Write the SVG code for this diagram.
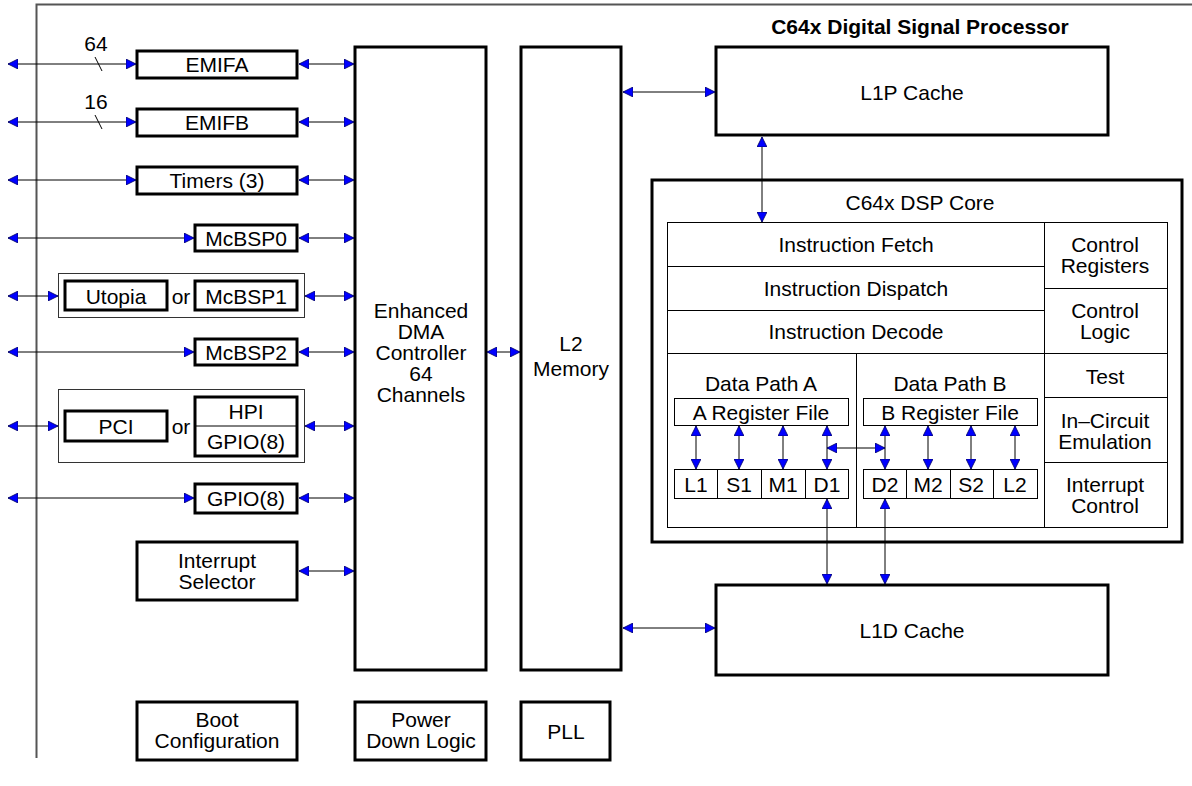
<svg xmlns="http://www.w3.org/2000/svg" width="1192" height="786" viewBox="0 0 1192 786">
<defs>
<marker id="ah" viewBox="0 0 10 10" refX="10" refY="5" markerWidth="10" markerHeight="10" markerUnits="userSpaceOnUse" orient="auto-start-reverse">
<path d="M0,0 L10,5 L0,10 z" fill="#0000ff" stroke="#000060" stroke-width="0.8"/>
</marker>
</defs>
<style>
text{font-family:"Liberation Sans",Arial,sans-serif;font-size:21px;fill:#000;text-anchor:middle}
.thick{fill:#fff;stroke:#000;stroke-width:3}
.thin{fill:#fff;stroke:#000;stroke-width:1}
.grp{fill:none;stroke:#333;stroke-width:1}
.ln{fill:none;stroke:#000;stroke-width:1}
.ar{fill:none;stroke:#000;stroke-width:1;marker-start:url(#ah);marker-end:url(#ah)}
.title{font-weight:bold;font-size:21px}
</style>
<rect width="1192" height="786" fill="#fff"/>
<g id="frame">
<path d="M36.5,758 V4.5 H1192" fill="none" stroke="#555" stroke-width="2"/>
</g>
<text class="title" x="920" y="34">C64x Digital Signal Processor</text>

<text x="96" y="50.5">64</text>
<text x="96" y="109">16</text>

<g id="emifa"><rect class="thick" x="137" y="51" width="160" height="27"/><text x="217" y="71.5">EMIFA</text></g>
<g id="emifb"><rect class="thick" x="137" y="109" width="160" height="27"/><text x="217" y="129.5">EMIFB</text></g>
<g id="timers"><rect class="thick" x="137" y="167" width="160" height="27"/><text x="217" y="187.5">Timers (3)</text></g>
<g id="mcbsp0"><rect class="thick" x="195" y="225" width="102" height="26"/><text x="246" y="245.5">McBSP0</text></g>
<g id="utopia-group">
<rect class="grp" x="58.5" y="273.5" width="246" height="44"/>
<rect class="thick" x="65" y="281" width="102" height="29"/><text x="116" y="303.5">Utopia</text>
<text x="181" y="303.5">or</text>
<rect class="thick" x="195" y="281" width="102" height="29"/><text x="246" y="303.5">McBSP1</text>
</g>
<g id="mcbsp2"><rect class="thick" x="195" y="339" width="102" height="26"/><text x="246" y="359.5">McBSP2</text></g>
<g id="pci-group">
<rect class="grp" x="58.5" y="389.5" width="246" height="73"/>
<rect class="thick" x="65" y="411" width="102" height="30"/><text x="116" y="433.5">PCI</text>
<text x="181" y="433.5">or</text>
<rect class="thick" x="195" y="397" width="102" height="59"/>
<line class="ln" x1="195" y1="426" x2="297" y2="426"/>
<text x="246" y="418.5">HPI</text><text x="246" y="448.5">GPIO(8)</text>
</g>
<g id="gpio8"><rect class="thick" x="195" y="484" width="102" height="29"/><text x="246" y="505.5">GPIO(8)</text></g>
<g id="int-selector"><rect class="thick" x="137" y="542" width="160" height="58"/><text x="217" y="567.5">Interrupt</text><text x="217" y="588.5">Selector</text></g>

<g id="edma"><rect class="thick" x="355" y="47" width="131" height="623"/>
<text x="421" y="317.5">Enhanced</text><text x="421" y="338.5">DMA</text><text x="421" y="359.5">Controller</text><text x="421" y="380.5">64</text><text x="421" y="401.5">Channels</text></g>
<g id="l2"><rect class="thick" x="521" y="47" width="100" height="623"/>
<text x="571" y="350.5">L2</text><text x="571" y="375.5">Memory</text></g>

<g id="l1p"><rect class="thick" x="716" y="47" width="392" height="88"/><text x="912" y="99.5">L1P Cache</text></g>
<g id="l1d"><rect class="thick" x="716" y="585" width="392" height="90"/><text x="912" y="637.5">L1D Cache</text></g>

<g id="core">
<rect class="thick" x="652" y="180" width="530" height="362" stroke-width="3.5"/>
<text x="920" y="209.5">C64x DSP Core</text>
<rect class="thin" x="667.5" y="222.5" width="500" height="305"/>
<line class="ln" x1="1044.5" y1="222" x2="1044.5" y2="527"/>
<line class="ln" x1="667" y1="266.5" x2="1044" y2="266.5"/>
<line class="ln" x1="667" y1="310.5" x2="1044" y2="310.5"/>
<line class="ln" x1="667" y1="353.5" x2="1167" y2="353.5"/>
<line class="ln" x1="1044" y1="288.5" x2="1167" y2="288.5"/>
<line class="ln" x1="1044" y1="397.5" x2="1167" y2="397.5"/>
<line class="ln" x1="1044" y1="462.5" x2="1167" y2="462.5"/>
<line class="ln" x1="856.5" y1="353" x2="856.5" y2="527"/>
<text x="856" y="251.5">Instruction Fetch</text>
<text x="856" y="295.5">Instruction Dispatch</text>
<text x="856" y="339">Instruction Decode</text>
<text x="1105" y="252">Control</text><text x="1105" y="273">Registers</text>
<text x="1105" y="317.5">Control</text><text x="1105" y="338.5">Logic</text>
<text x="1105" y="383.5">Test</text>
<text x="1105" y="427.5">In–Circuit</text><text x="1105" y="448.5">Emulation</text>
<text x="1105" y="492">Interrupt</text><text x="1105" y="513">Control</text>
</g>
<g id="datapath-a">
<text x="761" y="390.5">Data Path A</text>
<rect class="thin" x="674.5" y="398.5" width="174" height="27"/><text x="761" y="419.5">A Register File</text>
<rect class="thin" x="674.5" y="469.5" width="174" height="29"/>
<line class="ln" x1="717.5" y1="469" x2="717.5" y2="498"/>
<line class="ln" x1="761.5" y1="469" x2="761.5" y2="498"/>
<line class="ln" x1="805.5" y1="469" x2="805.5" y2="498"/>
<text x="696" y="491.5">L1</text><text x="739" y="491.5">S1</text><text x="783" y="491.5">M1</text><text x="827" y="491.5">D1</text>
</g>
<g id="datapath-b">
<text x="950" y="390.5">Data Path B</text>
<rect class="thin" x="863.5" y="398.5" width="174" height="27"/><text x="950" y="419.5">B Register File</text>
<rect class="thin" x="863.5" y="469.5" width="174" height="29"/>
<line class="ln" x1="906.5" y1="469" x2="906.5" y2="498"/>
<line class="ln" x1="950.5" y1="469" x2="950.5" y2="498"/>
<line class="ln" x1="993.5" y1="469" x2="993.5" y2="498"/>
<text x="885" y="491.5">D2</text><text x="928" y="491.5">M2</text><text x="971" y="491.5">S2</text><text x="1015" y="491.5">L2</text>
</g>

<g id="boot"><rect class="thick" x="137" y="702" width="160" height="58"/><text x="217" y="727">Boot</text><text x="217" y="748">Configuration</text></g>
<g id="power"><rect class="thick" x="355" y="702" width="131" height="58"/><text x="421" y="727">Power</text><text x="421" y="748">Down Logic</text></g>
<g id="pll"><rect class="thick" x="521" y="702" width="89" height="58"/><text x="566" y="738.5">PLL</text></g>

<g id="connectors">
<line class="ar" x1="8" y1="64" x2="136" y2="64"/>
<line class="ar" x1="299" y1="64" x2="354" y2="64"/>
<line class="ln" x1="95" y1="57" x2="102" y2="71"/>
<line class="ar" x1="8" y1="122" x2="136" y2="122"/>
<line class="ar" x1="299" y1="122" x2="354" y2="122"/>
<line class="ln" x1="95" y1="115" x2="102" y2="129"/>
<line class="ar" x1="8" y1="180" x2="136" y2="180"/>
<line class="ar" x1="299" y1="180" x2="354" y2="180"/>
<line class="ar" x1="8" y1="238" x2="194" y2="238"/>
<line class="ar" x1="299" y1="238" x2="354" y2="238"/>
<line class="ar" x1="8" y1="296" x2="58" y2="296"/>
<line class="ar" x1="305" y1="296" x2="354" y2="296"/>
<line class="ar" x1="8" y1="352" x2="194" y2="352"/>
<line class="ar" x1="299" y1="352" x2="354" y2="352"/>
<line class="ar" x1="8" y1="426" x2="58" y2="426"/>
<line class="ar" x1="305" y1="426" x2="354" y2="426"/>
<line class="ar" x1="8" y1="498" x2="194" y2="498"/>
<line class="ar" x1="299" y1="498" x2="354" y2="498"/>
<line class="ar" x1="299" y1="571" x2="354" y2="571"/>
<line class="ar" x1="487" y1="352" x2="520" y2="352"/>
<line class="ar" x1="623" y1="92" x2="715" y2="92"/>
<line class="ar" x1="623" y1="628" x2="715" y2="628"/>
<line class="ar" x1="762" y1="137" x2="762" y2="222"/>
<line class="ar" x1="696" y1="426" x2="696" y2="469"/>
<line class="ar" x1="739" y1="426" x2="739" y2="469"/>
<line class="ar" x1="783" y1="426" x2="783" y2="469"/>
<line class="ar" x1="827" y1="426" x2="827" y2="469"/>
<line class="ar" x1="885" y1="426" x2="885" y2="469"/>
<line class="ar" x1="928" y1="426" x2="928" y2="469"/>
<line class="ar" x1="971" y1="426" x2="971" y2="469"/>
<line class="ar" x1="1015" y1="426" x2="1015" y2="469"/>
<line class="ar" x1="827" y1="448" x2="885" y2="448"/>
<line class="ar" x1="827" y1="499" x2="827" y2="584"/>
<line class="ar" x1="885" y1="499" x2="885" y2="584"/>
</g>
</svg>
